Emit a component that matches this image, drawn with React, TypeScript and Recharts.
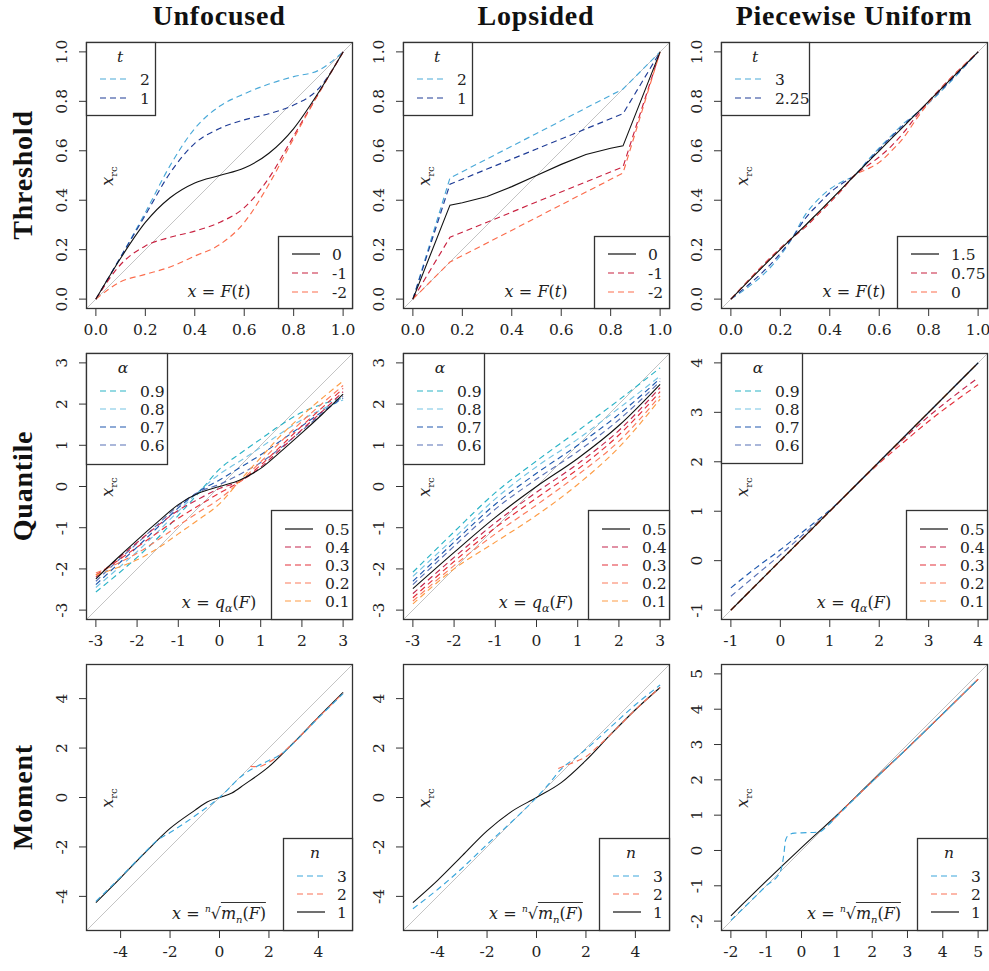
import React from "react";
import { LineChart, Line, XAxis, YAxis } from "recharts";

const FONT = "'DejaVu Serif', 'Liberation Serif', serif";
const TFONT = "'Liberation Serif', 'DejaVu Serif', serif";
const INK = "#222";
const S = 267;
const DASH = "6 4";
const FS = 15.5;

// colours
const LBLUE = "#4aa9d8";
const DBLUE = "#1f3c96";
const CRIMSON = "#c8203f";
const SALMON = "#fb6c4c";
const Q9 = "#2ab3c6";
const Q8 = "#74c3e3";
const Q7 = "#1e57ad";
const Q6 = "#5770b5";
const Q4 = "#c3254c";
const Q3 = "#e3303b";
const Q2 = "#fc7a5b";
const Q1 = "#fd9c45";
const M3 = "#3aa6dc";
const M2 = "#fa7055";

// ---------- Threshold / Unfocused
const thrUnfX = [0, 0.1, 0.2, 0.3, 0.4, 0.5, 0.6, 0.7, 0.8, 0.9, 1];
const thrUnfT2 = [0, 0.17, 0.35, 0.54, 0.69, 0.78, 0.83, 0.87, 0.9, 0.925, 1];
const thrUnfT1 = [0, 0.17, 0.34, 0.51, 0.63, 0.69, 0.725, 0.75, 0.785, 0.85, 1];
const thrUnfT0 = [0, 0.165, 0.31, 0.41, 0.47, 0.5, 0.53, 0.59, 0.69, 0.835, 1];
const thrUnfTm1 = [0, 0.14, 0.215, 0.25, 0.275, 0.31, 0.37, 0.49, 0.66, 0.83, 1];
const thrUnfTm2 = [0, 0.07, 0.1, 0.13, 0.174, 0.22, 0.31, 0.465, 0.65, 0.83, 1];

// ---------- Threshold / Lopsided
const thrLopX = [0, 0.15, 0.3, 0.5, 0.7, 0.85, 1];
const thrLopT2 = [0, 0.49, 0.567, 0.67, 0.773, 0.85, 1];
const thrLopT1 = [0, 0.465, 0.526, 0.607, 0.689, 0.75, 1];
const thrLopT0X = [0, 0.15, 0.2, 0.3, 0.4, 0.5, 0.6, 0.7, 0.8, 0.85, 1];
const thrLopT0 = [0, 0.38, 0.39, 0.415, 0.455, 0.5, 0.545, 0.585, 0.61, 0.62, 1];
const thrLopTm1 = [0, 0.25, 0.311, 0.393, 0.474, 0.535, 1];
const thrLopTm2 = [0, 0.15, 0.227, 0.33, 0.433, 0.51, 1];

// ---------- Threshold / Piecewise uniform
const thrPwX = [0, 0.25, 0.3, 0.35, 0.4, 0.45, 0.5, 0.55, 0.6, 0.65, 0.7, 0.75, 1];
const thrPwT3 = [0, 0.25, 0.34, 0.4, 0.445, 0.475, 0.5, 0.557, 0.612, 0.662, 0.712, 0.75, 1];
const thrPwT225 = [0, 0.25, 0.325, 0.38, 0.43, 0.468, 0.5, 0.553, 0.606, 0.657, 0.706, 0.75, 1];
const thrPwT15 = [0, 0.25, 0.297, 0.347, 0.397, 0.448, 0.5, 0.55, 0.6, 0.65, 0.7, 0.75, 1];
const thrPwT075 = [0, 0.25, 0.29, 0.34, 0.39, 0.443, 0.5, 0.538, 0.575, 0.62, 0.675, 0.74, 1];
const thrPwT0 = [0, 0.25, 0.294, 0.344, 0.394, 0.446, 0.5, 0.525, 0.553, 0.6, 0.655, 0.728, 1];

// ---------- Quantile / Unfocused
const qUnfX = [-3, -2.5, -2, -1.5, -1, -0.5, 0, 0.5, 1, 1.5, 2, 2.5, 3];
const qUnf9 = [-2.56, -2.15, -1.72, -1.25, -0.7, -0.15, 0.42, 0.8, 1.15, 1.5, 1.8, 2.0, 2.15];
const qUnf8 = [-2.45, -2.02, -1.58, -1.1, -0.6, -0.12, 0.3, 0.62, 0.95, 1.3, 1.62, 1.88, 2.1];
const qUnf7 = [-2.38, -1.92, -1.47, -0.99, -0.52, -0.12, 0.16, 0.46, 0.77, 1.12, 1.47, 1.82, 2.15];
const qUnf6 = [-2.3, -1.83, -1.38, -0.92, -0.47, -0.13, 0.05, 0.3, 0.58, 0.95, 1.36, 1.78, 2.2];
const qUnf5 = [-2.24, -1.76, -1.3, -0.86, -0.44, -0.16, 0, 0.16, 0.44, 0.86, 1.3, 1.76, 2.24];
const qUnf4 = [-2.2, -1.78, -1.36, -0.95, -0.58, -0.3, -0.05, 0.13, 0.47, 0.92, 1.38, 1.83, 2.3];
const qUnf3 = [-2.15, -1.82, -1.47, -1.12, -0.77, -0.46, -0.16, 0.12, 0.52, 0.99, 1.47, 1.92, 2.38];
const qUnf2 = [-2.1, -1.88, -1.62, -1.3, -0.95, -0.62, -0.3, 0.12, 0.6, 1.1, 1.58, 2.02, 2.45];
const qUnf1 = [-2.15, -1.98, -1.78, -1.5, -1.15, -0.8, -0.42, 0.15, 0.7, 1.25, 1.72, 2.15, 2.56];

// ---------- Quantile / Lopsided
const qLopX = [-3, -2, -1, 0, 1, 2, 3];
const qLop9 = [-2.08, -1.1, -0.15, 0.62, 1.35, 2.1, 2.88];
const qLop8 = [-2.18, -1.25, -0.3, 0.48, 1.15, 1.9, 2.68];
const qLop7 = [-2.3, -1.35, -0.43, 0.32, 1.0, 1.75, 2.62];
const qLop6 = [-2.38, -1.45, -0.55, 0.18, 0.85, 1.62, 2.55];
const qLop5 = [-2.48, -1.6, -0.75, 0, 0.68, 1.48, 2.48];
const qLop4 = [-2.6, -1.72, -0.88, -0.14, 0.55, 1.36, 2.4];
const qLop3 = [-2.7, -1.82, -1.0, -0.28, 0.42, 1.25, 2.3];
const qLop2 = [-2.78, -1.92, -1.15, -0.45, 0.28, 1.1, 2.2];
const qLop1 = [-2.85, -2.0, -1.35, -0.7, 0.05, 0.95, 2.12];

// ---------- Quantile / Piecewise uniform
const qPwX = [-1, -0.5, 0, 0.5, 1, 1.5, 2, 2.5, 3, 3.5, 4];
const qPw9 = [-1, -0.5, 0, 0.5, 1, 1.5, 2, 2.5, 3, 3.5, 4];
const qPw8 = [-1, -0.5, 0, 0.5, 1, 1.5, 2, 2.5, 3, 3.5, 4];
const qPw7 = [-0.55, -0.15, 0.22, 0.62, 1.02, 1.5, 2, 2.5, 3, 3.5, 4];
const qPw6 = [-0.72, -0.3, 0.12, 0.56, 1.0, 1.5, 2, 2.5, 3, 3.5, 4];
const qPw5 = [-1, -0.5, 0, 0.5, 1, 1.5, 2, 2.5, 3, 3.5, 4];
const qPw4 = [-1, -0.5, 0, 0.5, 1, 1.5, 2, 2.47, 2.92, 3.32, 3.7];
const qPw3 = [-1, -0.5, 0, 0.5, 1, 1.5, 1.97, 2.4, 2.82, 3.2, 3.56];
const qPw2 = [-1, -0.5, 0, 0.5, 1, 1.5, 2, 2.5, 3, 3.5, 4];
const qPw1 = [-1, -0.5, 0, 0.5, 1, 1.5, 2, 2.5, 3, 3.5, 4];

// ---------- Moment / Unfocused
const mUnf1X = [-5, -4, -3, -2, -1, -0.5, 0, 0.5, 1, 2, 3, 4, 5];
const mUnf1 = [-4.25, -3.25, -2.22, -1.25, -0.52, -0.18, 0, 0.18, 0.52, 1.25, 2.22, 3.25, 4.25];
const mUnf2X = [1.25, 1.6, 1.9, 2.2, 2.6, 3, 4, 5];
const mUnf2 = [1.26, 1.25, 1.37, 1.55, 1.85, 2.22, 3.24, 4.22];
const mUnf3X = [-5, -4, -3, -2.5, -2, -1, 0, 1, 1.5, 2, 2.5, 3, 4, 5];
const mUnf3 = [-4.2, -3.22, -2.2, -1.72, -1.42, -0.75, 0, 0.95, 1.25, 1.5, 1.75, 2.2, 3.22, 4.2];

// ---------- Moment / Lopsided
const mLop1X = [-5, -4, -3, -2, -1, 0, 1, 2, 3, 4, 5];
const mLop1 = [-4.25, -3.35, -2.35, -1.35, -0.56, 0, 0.6, 1.5, 2.55, 3.55, 4.45];
const mLop2X = [0.88, 1.2, 1.5, 2, 2.5, 3, 4, 5];
const mLop2 = [1.17, 1.3, 1.42, 1.65, 2.08, 2.55, 3.55, 4.45];
const mLop3X = [-5, -4, -3, -2, -1, 0, 0.5, 1, 1.5, 2, 3, 4, 5];
const mLop3 = [-4.5, -3.72, -2.85, -1.9, -0.98, 0, 0.55, 1.15, 1.55, 1.95, 2.85, 3.75, 4.55];

// ---------- Moment / Piecewise uniform
const mPw1X = [-2, -1, 0, 1, 2, 3, 4, 5];
const mPw1 = [-1.85, -0.87, 0.08, 1.0, 1.96, 2.9, 3.87, 4.85];
const mPw2X = [0.85, 1, 2, 3, 4, 5];
const mPw2 = [0.82, 0.98, 1.95, 2.9, 3.87, 4.85];
const mPw3X = [-2, -1, -0.6, -0.55, -0.5, -0.45, -0.35, -0.2, 0, 0.5, 0.65, 1, 2, 3, 4, 5];
const mPw3 = [-1.98, -1.0, -0.6, -0.42, -0.1, 0.3, 0.45, 0.49, 0.5, 0.52, 0.62, 0.97, 1.95, 2.9, 3.87, 4.85];

// axis ranges and ticks
const rangeUnit = [-0.04, 1.04];
const ticksUnit = [0, 0.2, 0.4, 0.6, 0.8, 1];
const rangeQ = [-3.24, 3.24];
const ticksQ = [-3, -2, -1, 0, 1, 2, 3];
const rangeQPw = [-1.2, 4.2];
const ticksQPw = [-1, 0, 1, 2, 3, 4];
const rangeM = [-5.4, 5.4];
const ticksM = [-4, -2, 0, 2, 4];
const rangeMPw = [-2.28, 5.28];
const ticksMPw = [-2, -1, 0, 1, 2, 3, 4, 5];

const colLeft = [86, 403, 721];
const rowTop = [42, 353, 664];

type Pt = { x: number; y: number };
const pts = (xs: number[], ys: number[]): Pt[] => xs.map((x, i) => ({ x, y: ys[i] }));

type Series = { data: Pt[]; color: string; dash?: boolean; w?: number; curve?: "monotone" | "linear" };
type Item = { label: string; color: string; dash?: boolean };
type Legend = {
  corner: "tl" | "br";
  w: number;
  h: number;
  title?: string;
  titleX?: number;
  rowY: number[];
  items: Item[];
};

const fmt1 = (v: number) => v.toFixed(1);
const fmt0 = (v: number) => String(v);

const s = (xs: number[], ys: number[], color: string, dash = true, curve: "monotone" | "linear" = "monotone"): Series => ({
  data: pts(xs, ys),
  color,
  dash,
  w: dash ? 1.15 : 1.1,
  curve,
});

function makeYTick(fmt: (v: number) => string) {
  return (props: any) => {
    const { x, y, payload } = props;
    return (
      <text x={x} y={y} transform={`rotate(-90 ${x} ${y})`} textAnchor="middle" style={{ fontFamily: FONT }} fontSize={FS} fill={INK}>
        {fmt(payload.value)}
      </text>
    );
  };
}

function LegendBox({ spec }: { spec: Legend }) {
  const x0 = spec.corner === "tl" ? 0 : S - spec.w;
  const y0 = spec.corner === "tl" ? 0 : S - spec.h;
  return (
    <g style={{ fontFamily: FONT }}>
      <rect x={x0 + 0.5} y={y0 + 0.5} width={spec.w - 1} height={spec.h - 1} fill="#fff" stroke="#333" strokeWidth={1.3} />
      {spec.title && (
        <text x={x0 + (spec.titleX ?? 35)} y={y0 + 15} textAnchor="middle" dominantBaseline="central" fontStyle="italic" fontSize={FS} fill={INK}>
          {spec.title}
        </text>
      )}
      {spec.items.map((it, i) => (
        <g key={i}>
          <line
            x1={x0 + 14}
            x2={x0 + 42}
            y1={y0 + spec.rowY[i]}
            y2={y0 + spec.rowY[i]}
            stroke={it.color}
            strokeWidth={1.2}
            strokeDasharray={it.dash === false ? undefined : DASH}
          />
          <text x={x0 + 54} y={y0 + spec.rowY[i] + 1} dominantBaseline="central" fontSize={FS} fill={INK}>
            {it.label}
          </text>
        </g>
      ))}
    </g>
  );
}

const sub = (t: string) => (
  <span style={{ fontSize: 10, position: "relative", top: 4 }}>{t}</span>
);

const mathThr = (
  <span>
    <i>x</i>{"\u2004=\u2004"}<i>F</i>(<i>t</i>)
  </span>
);
const mathQ = (
  <span>
    <i>x</i>{"\u2004=\u2004"}<i>q</i>
    <span style={{ fontSize: 11, position: "relative", top: 4, fontStyle: "italic" }}>α</span>(<i>F</i>)
  </span>
);
const mathM = (
  <span>
    <i>x</i>{"\u2004=\u2004"}
    <span style={{ fontSize: 9, position: "relative", top: -7 }}>
      <i>n</i>
    </span>
    √
    <span style={{ borderTop: "1px solid #333", paddingTop: 1 }}>
      <i>m</i>
      <span style={{ fontSize: 10, position: "relative", top: 4, fontStyle: "italic" }}>n</span>(<i>F</i>)
    </span>
  </span>
);

function Panel({
  left,
  top,
  range,
  ticks,
  fmt,
  series,
  legends,
  math,
}: {
  left: number;
  top: number;
  range: number[];
  ticks: number[];
  fmt: (v: number) => string;
  series: Series[];
  legends: Legend[];
  math: React.ReactNode;
}) {
  const diag = pts(range, range);
  return (
    <div style={{ position: "absolute", left: left - 80, top: top - 5, width: S + 85, height: S + 50 }}>
      <LineChart width={S + 85} height={S + 50} margin={{ top: 5, right: 5, left: 20, bottom: 15 }} style={{ fontFamily: FONT }}>
        <XAxis
          type="number"
          dataKey="x"
          domain={range}
          allowDataOverflow
          ticks={ticks}
          interval={0}
          tickFormatter={fmt}
          tickSize={7}
          tickMargin={8}
          axisLine={false}
          stroke="#333"
          height={30}
          tick={{ fontSize: FS, fill: INK, style: { fontFamily: FONT } }}
        />
        <YAxis
          type="number"
          dataKey="y"
          domain={range}
          allowDataOverflow
          ticks={ticks}
          interval={0}
          tickSize={7}
          tickMargin={12}
          axisLine={false}
          stroke="#333"
          width={60}
          tick={makeYTick(fmt)}
        />
        <Line data={diag} dataKey="y" type="linear" stroke="#c4c4c4" strokeWidth={1} dot={false} isAnimationActive={false} />
        {series.map((sr, i) => (
          <Line
            key={i}
            data={sr.data}
            dataKey="y"
            type={sr.curve ?? "monotone"}
            stroke={sr.color}
            strokeWidth={sr.w ?? 1.1}
            strokeDasharray={sr.dash ? DASH : undefined}
            dot={false}
            activeDot={false}
            isAnimationActive={false}
          />
        ))}
      </LineChart>
      <svg style={{ position: "absolute", left: 80, top: 5, overflow: "visible", pointerEvents: "none" }} width={S} height={S}>
        <rect x={0.5} y={0.5} width={S - 1} height={S - 1} fill="none" stroke="#333" strokeWidth={1.3} />
        {legends.map((lg, i) => (
          <LegendBox key={i} spec={lg} />
        ))}
      </svg>
      <div
        style={{
          position: "absolute",
          left: 80 + 133,
          top: 5 + 250,
          transform: "translate(-50%, -50%)",
          fontFamily: FONT,
          fontSize: 16,
          color: INK,
          whiteSpace: "nowrap",
          lineHeight: 1,
        }}
      >
        {math}
      </div>
      <div
        style={{
          position: "absolute",
          left: 80 + 22,
          top: 5 + 134,
          transform: "translate(-50%, -50%) rotate(-90deg)",
          fontFamily: FONT,
          fontSize: 16,
          color: INK,
          whiteSpace: "nowrap",
          lineHeight: 1,
        }}
      >
        <i>x</i>
        {sub("rc")}
      </div>
    </div>
  );
}

const thrTL = (w: number, a: string, b: string): Legend => ({
  corner: "tl",
  w,
  h: 74,
  title: "t",
  titleX: 34,
  rowY: [37, 56],
  items: [
    { label: a, color: LBLUE },
    { label: b, color: DBLUE },
  ],
});
const thrBR = (w: number, a: string, b: string, c: string): Legend => ({
  corner: "br",
  w,
  h: 73,
  rowY: [18, 37, 56],
  items: [
    { label: a, color: "#111", dash: false },
    { label: b, color: CRIMSON },
    { label: c, color: SALMON },
  ],
});
const qTL: Legend = {
  corner: "tl",
  w: 82,
  h: 112,
  title: "α",
  titleX: 37,
  rowY: [38, 56, 74, 92],
  items: [
    { label: "0.9", color: Q9 },
    { label: "0.8", color: Q8 },
    { label: "0.7", color: Q7 },
    { label: "0.6", color: Q6 },
  ],
};
const qBR: Legend = {
  corner: "br",
  w: 82,
  h: 110,
  rowY: [19, 37, 55, 73, 91],
  items: [
    { label: "0.5", color: "#111", dash: false },
    { label: "0.4", color: Q4 },
    { label: "0.3", color: Q3 },
    { label: "0.2", color: Q2 },
    { label: "0.1", color: Q1 },
  ],
};
const mBR: Legend = {
  corner: "br",
  w: 70,
  h: 93,
  title: "n",
  titleX: 32,
  rowY: [38, 56, 74],
  items: [
    { label: "3", color: M3 },
    { label: "2", color: M2 },
    { label: "1", color: "#111", dash: false },
  ],
};

const quantSeries = (xs: number[], ys: number[][], curve: "monotone" | "linear" = "monotone"): Series[] => [
  s(xs, ys[0], Q9, true, curve),
  s(xs, ys[1], Q8, true, curve),
  s(xs, ys[2], Q7, true, curve),
  s(xs, ys[3], Q6, true, curve),
  s(xs, ys[5], Q4, true, curve),
  s(xs, ys[6], Q3, true, curve),
  s(xs, ys[7], Q2, true, curve),
  s(xs, ys[8], Q1, true, curve),
  s(xs, ys[4], "#111", false, curve),
];

const titleStyle: React.CSSProperties = {
  position: "absolute",
  fontFamily: TFONT,
  fontWeight: "bold",
  fontSize: 28,
  letterSpacing: 0.8,
  color: "#111",
  whiteSpace: "nowrap",
  lineHeight: 1,
  transform: "translate(-50%, -50%)",
};

export default function App() {
  const cols = ["Unfocused", "Lopsided", "Piecewise Uniform"];
  const rows = ["Threshold", "Quantile", "Moment"];
  return (
    <div style={{ position: "absolute", left: 0, top: 0, width: 989, height: 971, overflow: "hidden", background: "#fff", fontFamily: FONT }}>
      {cols.map((c, i) => (
        <div key={c} style={{ ...titleStyle, left: colLeft[i] + 133, top: 16 }}>
          {c}
        </div>
      ))}
      {rows.map((r, i) => (
        <div key={r} style={{ ...titleStyle, left: 23, top: rowTop[i] + 133, transform: "translate(-50%, -50%) rotate(-90deg)" }}>
          {r}
        </div>
      ))}

      {/* Threshold row */}
      <Panel
        left={colLeft[0]}
        top={rowTop[0]}
        range={rangeUnit}
        ticks={ticksUnit}
        fmt={fmt1}
        math={mathThr}
        legends={[thrTL(70, "2", "1"), thrBR(75, "0", "-1", "-2")]}
        series={[
          s(thrUnfX, thrUnfT2, LBLUE),
          s(thrUnfX, thrUnfT1, DBLUE),
          s(thrUnfX, thrUnfTm1, CRIMSON),
          s(thrUnfX, thrUnfTm2, SALMON),
          s(thrUnfX, thrUnfT0, "#111", false),
        ]}
      />
      <Panel
        left={colLeft[1]}
        top={rowTop[0]}
        range={rangeUnit}
        ticks={ticksUnit}
        fmt={fmt1}
        math={mathThr}
        legends={[thrTL(70, "2", "1"), thrBR(76, "0", "-1", "-2")]}
        series={[
          s(thrLopX, thrLopT2, LBLUE, true, "linear"),
          s(thrLopX, thrLopT1, DBLUE, true, "linear"),
          s(thrLopX, thrLopTm1, CRIMSON, true, "linear"),
          s(thrLopX, thrLopTm2, SALMON, true, "linear"),
          s(thrLopT0X, thrLopT0, "#111", false, "linear"),
        ]}
      />
      <Panel
        left={colLeft[2]}
        top={rowTop[0]}
        range={rangeUnit}
        ticks={ticksUnit}
        fmt={fmt1}
        math={mathThr}
        legends={[thrTL(89, "3", "2.25"), thrBR(91, "1.5", "0.75", "0")]}
        series={[
          s(thrPwX, thrPwT3, LBLUE),
          s(thrPwX, thrPwT225, DBLUE),
          s(thrPwX, thrPwT075, CRIMSON),
          s(thrPwX, thrPwT0, SALMON),
          s(thrPwX, thrPwT15, "#111", false),
        ]}
      />

      {/* Quantile row */}
      <Panel
        left={colLeft[0]}
        top={rowTop[1]}
        range={rangeQ}
        ticks={ticksQ}
        fmt={fmt0}
        math={mathQ}
        legends={[qTL, qBR]}
        series={quantSeries(qUnfX, [qUnf9, qUnf8, qUnf7, qUnf6, qUnf5, qUnf4, qUnf3, qUnf2, qUnf1])}
      />
      <Panel
        left={colLeft[1]}
        top={rowTop[1]}
        range={rangeQ}
        ticks={ticksQ}
        fmt={fmt0}
        math={mathQ}
        legends={[qTL, qBR]}
        series={quantSeries(qLopX, [qLop9, qLop8, qLop7, qLop6, qLop5, qLop4, qLop3, qLop2, qLop1])}
      />
      <Panel
        left={colLeft[2]}
        top={rowTop[1]}
        range={rangeQPw}
        ticks={ticksQPw}
        fmt={fmt0}
        math={mathQ}
        legends={[{ ...qTL, h: 111 }, qBR]}
        series={quantSeries(qPwX, [qPw9, qPw8, qPw7, qPw6, qPw5, qPw4, qPw3, qPw2, qPw1])}
      />

      {/* Moment row */}
      <Panel
        left={colLeft[0]}
        top={rowTop[2]}
        range={rangeM}
        ticks={ticksM}
        fmt={fmt0}
        math={mathM}
        legends={[mBR]}
        series={[s(mUnf1X, mUnf1, "#111", false), s(mUnf2X, mUnf2, M2), s(mUnf3X, mUnf3, M3)]}
      />
      <Panel
        left={colLeft[1]}
        top={rowTop[2]}
        range={rangeM}
        ticks={ticksM}
        fmt={fmt0}
        math={mathM}
        legends={[{ ...mBR, w: 71 }]}
        series={[s(mLop1X, mLop1, "#111", false), s(mLop2X, mLop2, M2), s(mLop3X, mLop3, M3)]}
      />
      <Panel
        left={colLeft[2]}
        top={rowTop[2]}
        range={rangeMPw}
        ticks={ticksMPw}
        fmt={fmt0}
        math={mathM}
        legends={[{ ...mBR, w: 71 }]}
        series={[s(mPw1X, mPw1, "#111", false), s(mPw2X, mPw2, M2), s(mPw3X, mPw3, M3)]}
      />
    </div>
  );
}
